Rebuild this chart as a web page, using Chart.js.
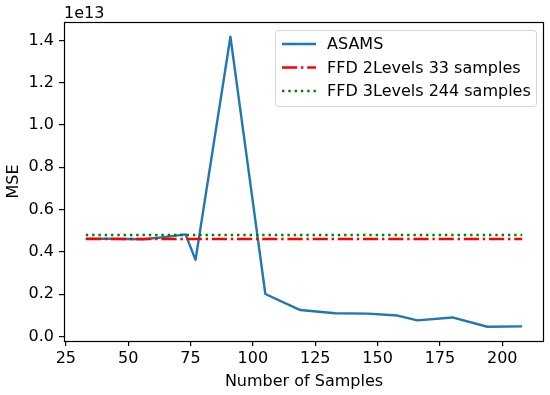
<!DOCTYPE html>
<html>
<head>
<meta charset="utf-8">
<script src="https://cdn.jsdelivr.net/npm/chart.js@4/dist/chart.umd.min.js"></script>
<style>
  html, body { margin: 0; padding: 0; background: #fff; }
  canvas { display: block; }
</style>
</head>
<body>
<canvas id="c" width="550" height="395"></canvas>
<script>
// ---- data ----
const samples   = [33, 42, 49, 56, 63, 70, 73, 77, 91, 105, 119, 133, 146, 158, 166, 180, 194, 208];
const asamsMSE  = [4.62e12, 4.62e12, 4.61e12, 4.60e12, 4.68e12, 4.78e12, 4.83e12, 3.62e12, 1.417e13,
                   2.01e12, 1.25e12, 1.10e12, 1.08e12, 0.99e12, 0.76e12, 0.90e12, 0.46e12, 0.48e12];
const ffdX       = [33, 208];
const ffd2Levels = [4.61e12, 4.61e12];
const ffd3Levels = [4.80e12, 4.80e12];

const xTickValues = [25, 50, 75, 100, 125, 150, 175, 200];
const yTickValues = [0, 2e12, 4e12, 6e12, 8e12, 1e13, 1.2e13, 1.4e13];
const yTickLabels = ['0.0', '0.2', '0.4', '0.6', '0.8', '1.0', '1.2', '1.4'];
const seriesNames = ['ASAMS', 'FFD 2Levels 33 samples', 'FFD 3Levels 244 samples'];
const xTitle = 'Number of Samples';
const yTitle = 'MSE';
const offsetText = '1e13';

const FONT = '"DejaVu Sans", sans-serif';
const FS = 16;

const pts = (xs, ys) => xs.map((x, i) => ({ x: x, y: ys[i] }));

const extras = {
  id: 'extras',
  afterDraw(chart) {
    const ctx = chart.ctx;
    const a = chart.chartArea;
    ctx.save();
    // frame
    ctx.strokeStyle = '#000';
    ctx.lineWidth = 1.2;
    ctx.strokeRect(Math.round(a.left) + 0.5, Math.round(a.top) + 0.5,
                   Math.round(a.right - a.left) - 1, Math.round(a.bottom - a.top));
    // texts
    ctx.fillStyle = '#000';
    ctx.font = FS + 'px ' + FONT;
    ctx.textAlign = 'left';
    ctx.textBaseline = 'alphabetic';
    ctx.fillText(offsetText, a.left, 18);
    ctx.textAlign = 'center';
    ctx.textBaseline = 'middle';
    ctx.fillText(xTitle, (a.left + a.right) / 2, 382);
    ctx.save();
    ctx.translate(14, (a.top + a.bottom) / 2);
    ctx.rotate(-Math.PI / 2);
    ctx.fillText(yTitle, 0, 0);
    ctx.restore();

    // legend
    const bx = 275.5, by = 30.5, bw = 261, bh = 76, r = 3;
    ctx.beginPath();
    ctx.moveTo(bx + r, by);
    ctx.lineTo(bx + bw - r, by);
    ctx.arcTo(bx + bw, by, bx + bw, by + r, r);
    ctx.lineTo(bx + bw, by + bh - r);
    ctx.arcTo(bx + bw, by + bh, bx + bw - r, by + bh, r);
    ctx.lineTo(bx + r, by + bh);
    ctx.arcTo(bx, by + bh, bx, by + bh - r, r);
    ctx.lineTo(bx, by + r);
    ctx.arcTo(bx, by, bx + r, by, r);
    ctx.closePath();
    ctx.fillStyle = 'rgba(255,255,255,0.8)';
    ctx.fill();
    ctx.strokeStyle = 'rgba(204,204,204,0.8)';
    ctx.lineWidth = 1;
    ctx.stroke();

    const rows = [44, 67.5, 91];
    chart.data.datasets.forEach((ds, i) => {
      const y = rows[i];
      ctx.beginPath();
      ctx.strokeStyle = ds.borderColor;
      ctx.lineWidth = ds.borderWidth;
      ctx.setLineDash(ds.borderDash || []);
      ctx.lineCap = 'butt';
      ctx.moveTo(282, y);
      ctx.lineTo(316, y);
      ctx.stroke();
      ctx.setLineDash([]);
      ctx.fillStyle = '#000';
      ctx.textAlign = 'left';
      ctx.textBaseline = 'middle';
      ctx.font = FS + 'px ' + FONT;
      ctx.fillText(ds.label, 327, y + 1);
    });
    ctx.restore();
  }
};

new Chart(document.getElementById('c'), {
  type: 'line',
  data: {
    datasets: [
      { label: seriesNames[0], data: pts(samples, asamsMSE), borderColor: '#1f77b4',
        borderWidth: 2.4, pointRadius: 0, tension: 0, order: 3, borderJoinStyle: 'round' },
      { label: seriesNames[1], data: pts(ffdX, ffd2Levels), borderColor: '#ff0000',
        borderWidth: 2.4, borderDash: [15.2, 3.8, 2.4, 3.8], pointRadius: 0, order: 2 },
      { label: seriesNames[2], data: pts(ffdX, ffd3Levels), borderColor: '#008000',
        borderWidth: 2.4, borderDash: [2.4, 3.9], pointRadius: 0, order: 1 }
    ]
  },
  options: {
    responsive: false,
    animation: false,
    events: [],
    layout: { padding: { top: 22, right: 6, left: 0, bottom: 0 } },
    plugins: { legend: { display: false }, tooltip: { enabled: false } },
    scales: {
      x: {
        type: 'linear', position: 'bottom', min: 24.25, max: 216.75,
        afterBuildTicks: s => { s.ticks = xTickValues.map(v => ({ value: v })); },
        afterFit: s => { s.height = 54; },
        grid: { drawOnChartArea: false, drawTicks: true, tickLength: 5, color: '#000', lineWidth: 1.2 },
        border: { display: false },
        ticks: { color: '#000', padding: 3, maxRotation: 0, autoSkip: false,
                 font: { family: FONT, size: FS }, callback: v => String(v) }
      },
      y: {
        type: 'linear', position: 'left', min: -0.0213e13, max: 1.487e13,
        afterBuildTicks: s => { s.ticks = yTickValues.map(v => ({ value: v })); },
        afterFit: s => { s.width = 64; },
        grid: { drawOnChartArea: false, drawTicks: true, tickLength: 5, color: '#000', lineWidth: 1.2 },
        border: { display: false },
        ticks: { color: '#000', padding: 5, autoSkip: false,
                 font: { family: FONT, size: FS },
                 callback: (v) => { const i = yTickValues.indexOf(v); return i >= 0 ? yTickLabels[i] : ''; } }
      }
    }
  },
  plugins: [extras]
});
</script>
</body>
</html>
